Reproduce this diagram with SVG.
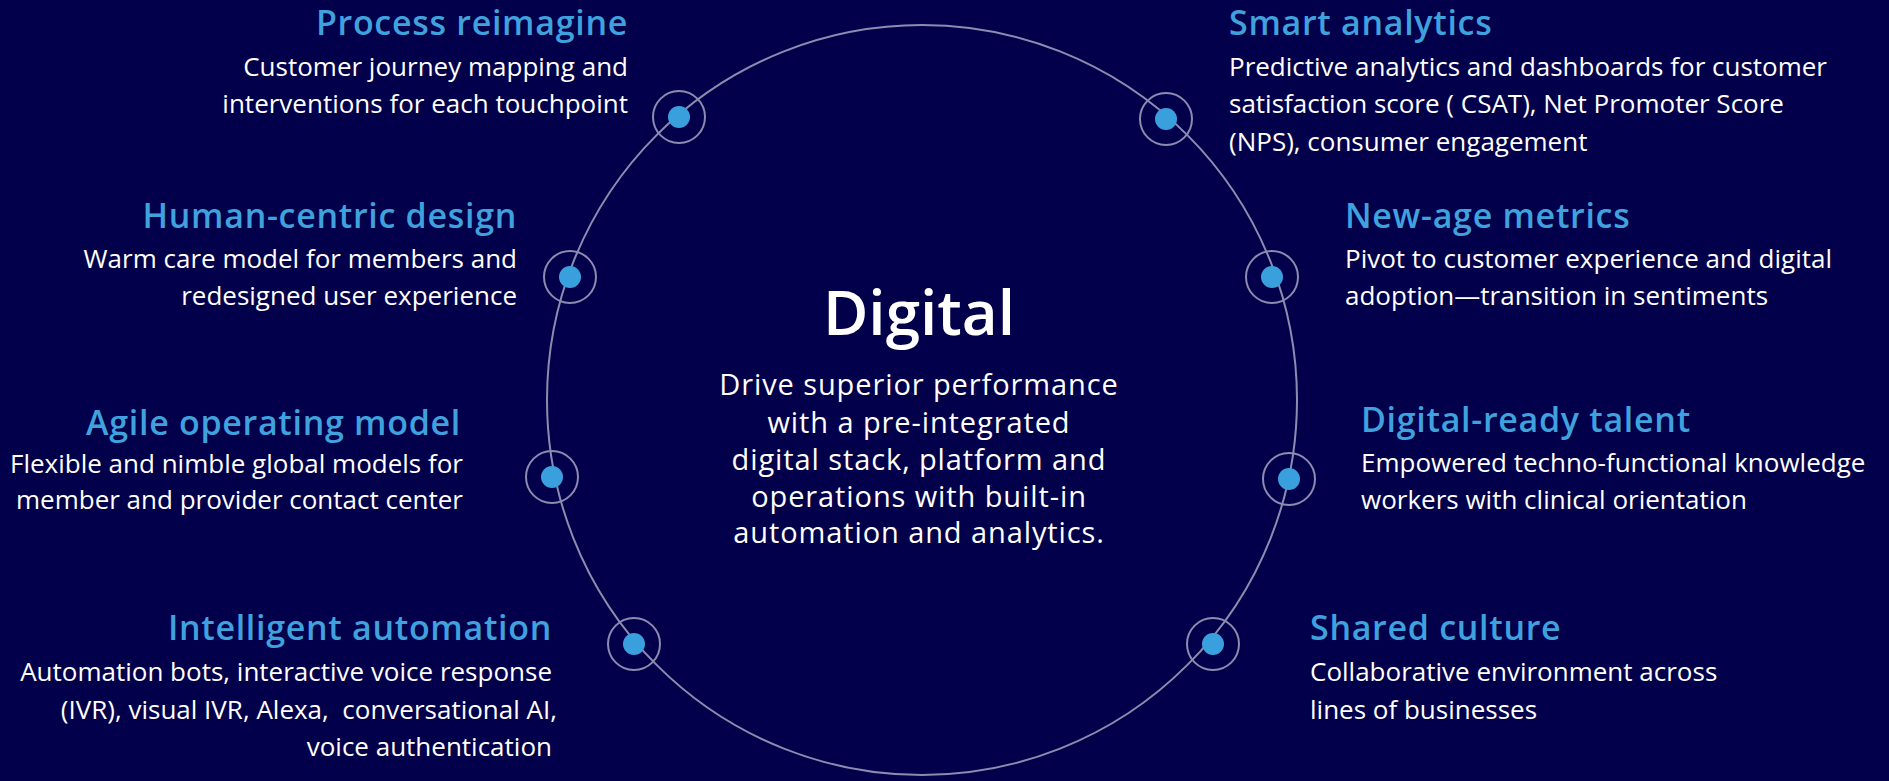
<svg xmlns="http://www.w3.org/2000/svg" width="1889" height="781" viewBox="0 0 1889 781">
<style>
.bg{fill:#02004a}
.ring{fill:none;stroke:#8c8cb0;stroke-width:2}
.dot{fill:#3a9fdd}
.h{font-family:"Open Sans","Liberation Sans",sans-serif;font-weight:600;font-size:34px;letter-spacing:0.7px;fill:#3fa2de}
.b{font-family:"Open Sans","Liberation Sans",sans-serif;font-weight:400;font-size:26px;fill:#ffffff}
.e{text-anchor:end}
.c{text-anchor:middle}
.t{font-family:"Open Sans","Liberation Sans",sans-serif;font-weight:600;font-size:62px;fill:#ffffff}
.cb{font-family:"Open Sans","Liberation Sans",sans-serif;font-weight:400;font-size:29px;letter-spacing:0.9px;fill:#ffffff}
</style>
<rect class="bg" x="0" y="0" width="1889" height="781"/>
<g id="connectors">
<circle class="ring" cx="922" cy="400" r="375"/>
</g>
<g id="center">
<text class="t c" x="919" y="335">Digital</text>
<text class="cb c" x="919" y="395">Drive superior performance</text>
<text class="cb c" x="919" y="433">with a pre-integrated</text>
<text class="cb c" x="919" y="470">digital stack, platform and</text>
<text class="cb c" x="919" y="507">operations with built-in</text>
<text class="cb c" x="919" y="543">automation and analytics.</text>
</g>
<g id="process-reimagine">
<circle class="ring" cx="679" cy="117" r="26"/>
<circle class="dot" cx="679" cy="117" r="11"/>
<text class="h e" x="628" y="35">Process reimagine</text>
<text class="b e" x="628" y="76">Customer journey mapping and</text>
<text class="b e" x="628" y="113">interventions for each touchpoint</text>
</g>
<g id="human-centric-design">
<circle class="ring" cx="570" cy="277" r="26"/>
<circle class="dot" cx="570" cy="277" r="11"/>
<text class="h e" x="517" y="228">Human-centric design</text>
<text class="b e" x="517" y="268">Warm care model for members and</text>
<text class="b e" x="517" y="305">redesigned user experience</text>
</g>
<g id="agile-operating-model">
<circle class="ring" cx="552" cy="477" r="26"/>
<circle class="dot" cx="552" cy="477" r="11"/>
<text class="h e" x="461" y="435">Agile operating model</text>
<text class="b e" x="463" y="473">Flexible and nimble global models for</text>
<text class="b e" x="463" y="509">member and provider contact center</text>
</g>
<g id="intelligent-automation">
<circle class="ring" cx="634" cy="644" r="26"/>
<circle class="dot" cx="634" cy="644" r="11"/>
<text class="h e" x="552" y="640">Intelligent automation</text>
<text class="b e" x="552" y="681">Automation bots, interactive voice response</text>
<text class="b e" x="557" y="719" xml:space="preserve" style="white-space:pre">(IVR), visual IVR, Alexa,  conversational AI,</text>
<text class="b e" x="552" y="756">voice authentication</text>
</g>
<g id="smart-analytics">
<circle class="ring" cx="1166" cy="119" r="26"/>
<circle class="dot" cx="1166" cy="119" r="11"/>
<text class="h" x="1229" y="35">Smart analytics</text>
<text class="b" x="1229" y="76">Predictive analytics and dashboards for customer</text>
<text class="b" x="1229" y="113">satisfaction score ( CSAT), Net Promoter Score</text>
<text class="b" x="1229" y="151">(NPS), consumer engagement</text>
</g>
<g id="new-age-metrics">
<circle class="ring" cx="1272" cy="277" r="26"/>
<circle class="dot" cx="1272" cy="277" r="11"/>
<text class="h" x="1345" y="228">New-age metrics</text>
<text class="b" x="1345" y="268">Pivot to customer experience and digital</text>
<text class="b" x="1345" y="305">adoption—transition in sentiments</text>
</g>
<g id="digital-ready-talent">
<circle class="ring" cx="1289" cy="479" r="26"/>
<circle class="dot" cx="1289" cy="479" r="11"/>
<text class="h" x="1361" y="432">Digital-ready talent</text>
<text class="b" x="1361" y="472">Empowered techno-functional knowledge</text>
<text class="b" x="1361" y="509">workers with clinical orientation</text>
</g>
<g id="shared-culture">
<circle class="ring" cx="1213" cy="644" r="26"/>
<circle class="dot" cx="1213" cy="644" r="11"/>
<text class="h" x="1310" y="640">Shared culture</text>
<text class="b" x="1310" y="681">Collaborative environment across</text>
<text class="b" x="1310" y="719">lines of businesses</text>
</g>
</svg>
